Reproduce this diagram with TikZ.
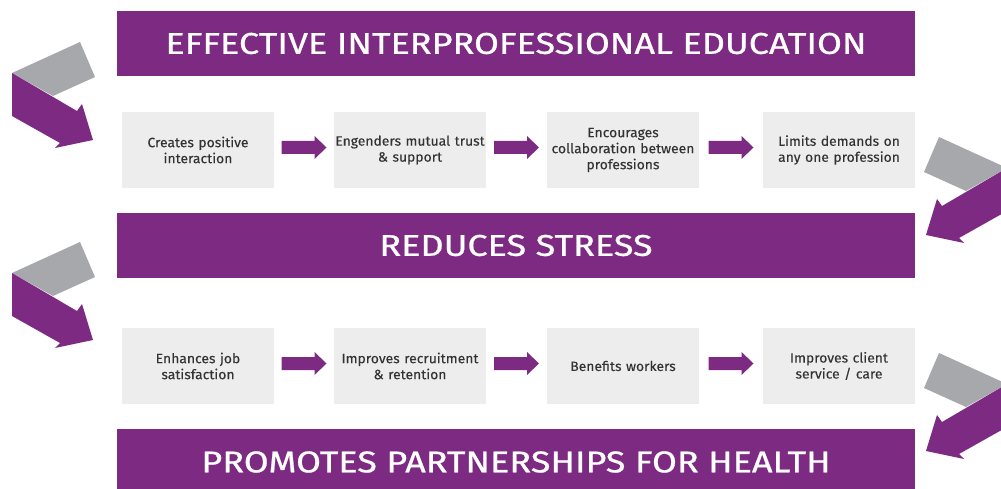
\documentclass[tikz,border=0pt]{standalone}
\usepackage{fontspec}
\setmainfont{Fira Sans}
\newfontfamily\bannerfont[FakeStretch=1.2,FakeBold=0.8]{Fira Sans}
\newfontfamily\boxfont[FakeStretch=1.03,FakeBold=0.1]{Fira Sans}
\usetikzlibrary{calc}
\definecolor{plum}{HTML}{7D2A82}
\definecolor{boxgray}{HTML}{ECEDEC}
\definecolor{arrgray}{HTML}{A6A8AB}
\definecolor{txt}{HTML}{333333}
\newcommand\flowarrow[1]{%
  \fill[flow] ([shift={(-22.5,-6.5)}]#1) -- ([shift={(10.5,-6.5)}]#1) -- ([shift={(10.5,-11.5)}]#1)
    -- ([shift={(22.5,0)}]#1) -- ([shift={(10.5,11.5)}]#1) -- ([shift={(10.5,6.5)}]#1)
    -- ([shift={(-22.5,6.5)}]#1) -- cycle;}
\newcommand\cornerribbon{%
  \fill[fold] (12,73) -- (80,42) -- (95,77) -- (53,96) -- cycle;
  \fill[ribbon] (12,73) -- (77,111) -- (82,104) -- (93,140) -- (55,148) -- (60,143) -- (12,116) -- cycle;}
\begin{document}
\begin{tikzpicture}[x=1pt,y=-1pt,
  banner/.style={fill=plum, text=white, minimum width=798pt, minimum height=65pt, inner sep=0pt,
    font=\bannerfont\fontsize{30}{34}\selectfont},
  stepbox/.style={fill=boxgray, text=txt, minimum width=152pt, minimum height=76pt, inner sep=0pt,
    text width=150pt, align=center, font=\boxfont\fontsize{13.5}{16}\selectfont},
  flow/.style={fill=plum},
  ribbon/.style={fill=plum},
  fold/.style={fill=arrgray}]
\useasboundingbox (0,0) rectangle (1001,489);
\clip (0,0) rectangle (1001,489);

% banners
\node[banner] (t1) at (516,43.5) {EFFECTIVE INTERPROFESSIONAL EDUCATION};
\node[banner] (t2) at (516,245.5) {REDUCES STRESS};
\node[banner, minimum height=66pt] (t3) at (516,462) {PROMOTES PARTNERSHIPS FOR HEALTH};

% row 1
\node[stepbox] (a1) at (198,150) {Creates positive\\interaction};
\node[stepbox] (a2) at (410,150) {Engenders mutual trust\\\& support};
\node[stepbox] (a3) at (623,150) {Encourages\\collaboration between\\professions};
\node[stepbox] (a4) at (839,150) {Limits demands on\\any one profession};

% row 2
\node[stepbox] (b1) at (198,366) {Enhances job\\satisfaction};
\node[stepbox] (b2) at (410,366) {Improves recruitment\\\& retention};
\node[stepbox] (b3) at (623,366) {Benefits workers};
\node[stepbox] (b4) at (839,366) {Improves client\\service / care};

% flow arrows
\coordinate (ma1) at ($(a1.east)!0.5!(a2.west)+(0,-2.5)$);
\coordinate (ma2) at ($(a2.east)!0.5!(a3.west)+(0,-2.5)$);
\coordinate (ma3) at ($(a3.east)!0.5!(a4.west)+(0,-2.5)$);
\coordinate (mb1) at ($(b1.east)!0.5!(b2.west)+(0,-2.5)$);
\coordinate (mb2) at ($(b2.east)!0.5!(b3.west)+(0,-2.5)$);
\coordinate (mb3) at ($(b3.east)!0.5!(b4.west)+(0,-2.5)$);
\flowarrow{ma1}\flowarrow{ma2}\flowarrow{ma3}
\flowarrow{mb1}\flowarrow{mb2}\flowarrow{mb3}

% corner ribbons
\cornerribbon
\begin{scope}[shift={(0,200)}]\cornerribbon\end{scope}
\begin{scope}[shift={(1019,95)}, xscale=-1]\cornerribbon\end{scope}
\begin{scope}[shift={(1019,311)}, xscale=-1]\cornerribbon\end{scope}
\end{tikzpicture}
\end{document}
